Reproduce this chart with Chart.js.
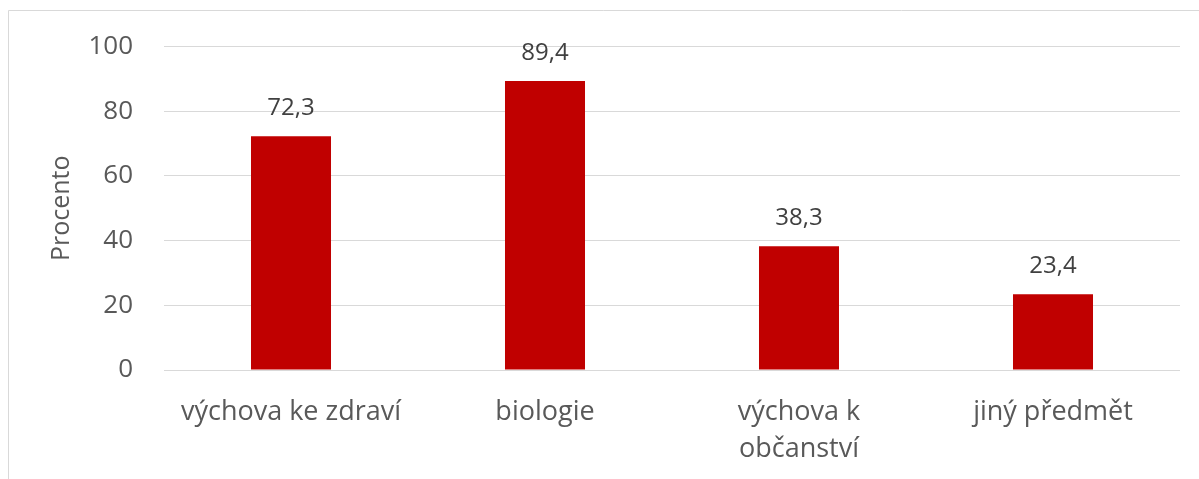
<!DOCTYPE html>
<html>
<head>
<meta charset="utf-8">
<script src="https://cdn.jsdelivr.net/npm/chart.js@4"></script>
<style>
html,body{margin:0;padding:0;background:#fff;}
#wrap{width:1199px;height:479px;position:relative;}
</style>
</head>
<body>
<div id="wrap"><canvas id="c" width="1199" height="479"></canvas></div>
<script>
const categories = ["výchova ke zdraví", "biologie", ["výchova k", "občanství"], "jiný předmět"];
const values = [72.3, 89.4, 38.3, 23.4];
const valueLabels = ["72,3", "89,4", "38,3", "23,4"];
const yTitle = "Procento";

const FONT = "'Open Sans', 'Noto Sans', sans-serif";

const frame = {
  id: 'frame',
  beforeDraw(chart) {
    const ctx = chart.ctx;
    ctx.save();
    ctx.fillStyle = '#fff';
    ctx.fillRect(0, 0, chart.width, chart.height);
    ctx.strokeStyle = '#d9d9d9';
    ctx.lineWidth = 1;
    ctx.beginPath();
    ctx.moveTo(8.5, chart.height);
    ctx.lineTo(8.5, 10.5);
    ctx.lineTo(chart.width, 10.5);
    ctx.stroke();
    ctx.restore();
  }
};

const dataLabels = {
  id: 'dataLabels',
  afterDatasetsDraw(chart) {
    const ctx = chart.ctx;
    const meta = chart.getDatasetMeta(0);
    ctx.save();
    ctx.font = "24px " + FONT;
    ctx.fillStyle = '#404040';
    ctx.textAlign = 'center';
    ctx.textBaseline = 'middle';
    meta.data.forEach((bar, i) => {
      ctx.fillText(valueLabels[i], bar.x, bar.y - 28);
    });
    ctx.restore();
  }
};

new Chart(document.getElementById('c'), {
  type: 'bar',
  data: {
    labels: categories,
    datasets: [{
      data: values,
      backgroundColor: '#c00000',
      borderWidth: 0,
      categoryPercentage: 1,
      barPercentage: 0.315
    }]
  },
  options: {
    responsive: false,
    animation: false,
    layout: { padding: { top: 44, right: 19, left: 0, bottom: 0 } },
    plugins: { legend: { display: false }, tooltip: { enabled: false } },
    scales: {
      x: {
        grid: { display: false, drawTicks: false },
        border: { display: false },
        ticks: {
          color: '#595959',
          font: { family: FONT, size: 27, lineHeight: 1.4 },
          padding: 23,
          maxRotation: 0,
          autoSkip: false
        },
        afterFit(s) { s.height = 109; }
      },
      y: {
        min: 0, max: 100,
        grid: { color: '#d9d9d9', lineWidth: 1, drawTicks: false },
        border: { display: false },
        ticks: {
          stepSize: 20,
          color: '#595959',
          font: { family: FONT, size: 26 },
          padding: 31
        },
        title: {
          display: true,
          text: yTitle,
          color: '#595959',
          font: { family: FONT, size: 25, lineHeight: 1.2 },
          padding: { top: 47, bottom: 0 }
        },
        afterFit(s) { s.width = 164; }
      }
    }
  },
  plugins: [frame, dataLabels]
});
</script>
</body>
</html>
